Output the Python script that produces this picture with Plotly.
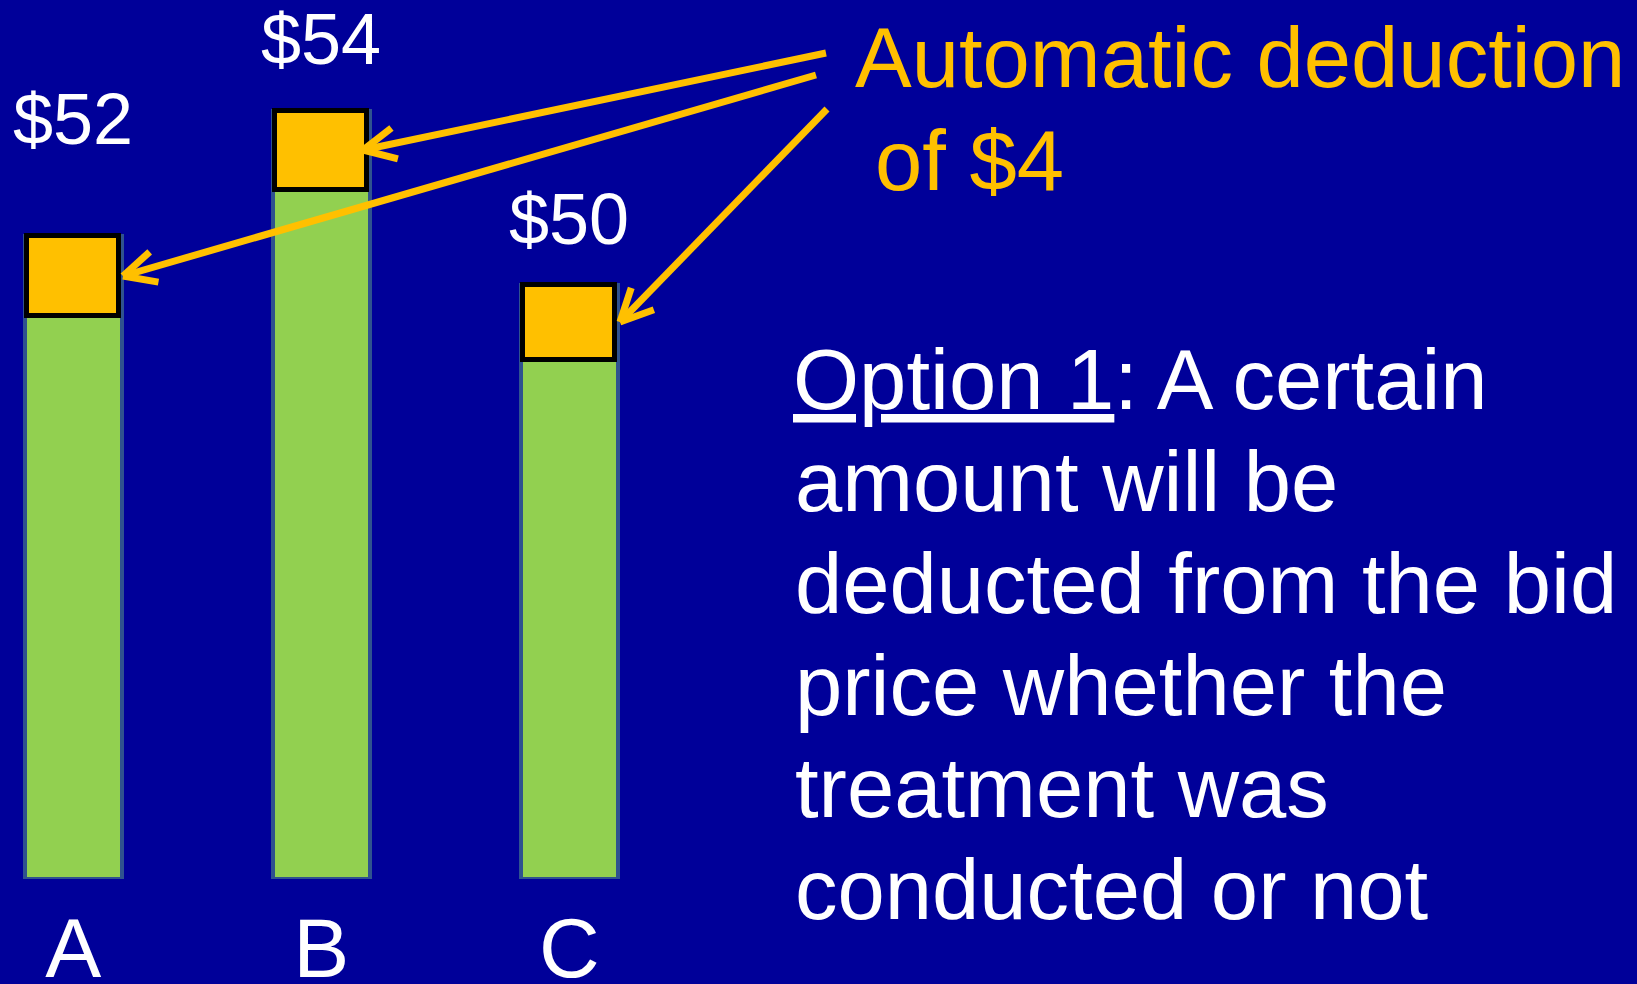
import math
import plotly.graph_objects as go

# ---------------- data ----------------
categories = ["A", "B", "C"]
bid_prices = [52, 54, 50]                 # $ labels above the bars
deduction = 4                              # automatic deduction ($)
drawn_bar_height = [73.1, 87.4, 67.6]      # drawn total bar height (chart units, 0-100 scale)
drawn_box_height = [9.1, 9.0, 8.6]         # drawn height of the orange deduction box
price_labels = ["$" + str(v) for v in bid_prices]
callout_lines = ["Automatic deduction", "of $" + str(deduction)]
option_lines = [
    "<u>Option 1</u>: A certain",
    "amount will be",
    "deducted from the bid",
    "price whether the",
    "treatment was",
    "conducted or not",
]

# ---------------- style ----------------
BG = "#000099"
GREEN = "#92D050"
ORANGE = "#FFC000"
OUTLINE = "#2F528F"
FONT = "Liberation Sans, Arial, sans-serif"
W, H = 1637, 984
PLOT_H = 879           # plot area height in px (bottom margin 105)


def px(x, y):
    """pixel position -> paper coordinates"""
    return x / W, (PLOT_H - y) / PLOT_H


box_base = [h - b for h, b in zip(drawn_bar_height, drawn_box_height)]

fig = go.Figure()
fig.add_trace(go.Bar(
    x=categories, y=drawn_bar_height, width=0.39,
    marker=dict(color=GREEN, line=dict(color=OUTLINE, width=4)),
    hoverinfo="skip", showlegend=False,
))
fig.add_trace(go.Bar(
    x=categories, y=drawn_box_height, base=box_base, width=0.37,
    marker=dict(color=ORANGE, line=dict(color="black", width=5)),
    hoverinfo="skip", showlegend=False,
))

annotations = []
# price labels above bars
price_baselines = [145, 65, 245]
for cat, lab, bl in zip(categories, price_labels, price_baselines):
    annotations.append(dict(
        x=cat, xref="x", y=px(0, bl + 0.212 * 72 + 1)[1], yref="paper",
        text=lab, showarrow=False, xanchor="center", yanchor="bottom",
        font=dict(family=FONT, size=72, color="white"),
    ))

# orange callout text
for txt, (lx, bl) in zip(callout_lines, [(853, 88), (873, 191)]):
    xx, yy = px(lx, bl + 0.212 * 85 + 1)
    annotations.append(dict(
        x=xx, xref="paper", y=yy, yref="paper", text=txt, showarrow=False,
        xanchor="left", yanchor="bottom",
        font=dict(family=FONT, size=85, color=ORANGE),
    ))

# white explanatory text
for i, txt in enumerate(option_lines):
    bl = 410 + 102 * i
    xx, yy = px(791 if i == 0 else 793, bl + 0.212 * 85 + 1)
    annotations.append(dict(
        x=xx, xref="paper", y=yy, yref="paper", text=txt, showarrow=False,
        xanchor="left", yanchor="bottom",
        font=dict(family=FONT, size=85, color="white"),
    ))

# arrows (open V heads) drawn as line shapes
shapes = []
arrows = [((826, 53), (363, 150)), ((816, 75), (123, 276)), ((827, 109), (620, 322))]
ARM, ANG = 36, math.radians(26)
for (sx, sy), (tx, ty) in arrows:
    x0, y0 = px(sx, sy)
    x1, y1 = px(tx, ty)
    shapes.append(dict(type="line", xref="paper", yref="paper", x0=x0, y0=y0, x1=x1, y1=y1,
                       line=dict(color=ORANGE, width=7)))
    back = math.atan2(sy - ty, sx - tx)
    for s in (-1, 1):
        a = back + s * ANG
        ax_, ay_ = tx + ARM * math.cos(a), ty + ARM * math.sin(a)
        p0 = px(ax_, ay_)
        shapes.append(dict(type="line", xref="paper", yref="paper",
                           x0=p0[0], y0=p0[1], x1=x1, y1=y1,
                           line=dict(color=ORANGE, width=7)))

unit = 248.0
x0_cat = 73.3
fig.update_layout(
    width=W, height=H,
    margin=dict(l=0, r=0, t=0, b=H - PLOT_H, pad=0, autoexpand=False),
    paper_bgcolor=BG, plot_bgcolor=BG,
    barmode="overlay", bargap=0,
    xaxis=dict(range=[-x0_cat / unit, (W - x0_cat) / unit], showgrid=False, zeroline=False,
               showline=False, ticks="", ticklabelstandoff=13, automargin=False,
               tickfont=dict(family=FONT, size=84, color="white"), fixedrange=True),
    yaxis=dict(range=[0, 100], visible=False, fixedrange=True, automargin=False),
    annotations=annotations, shapes=shapes,
    showlegend=False,
)

fig.write_html(
    "out.html",
    config={"displayModeBar": False},
    post_script="document.body.style.margin='0';document.body.style.background='#000099';",
)
